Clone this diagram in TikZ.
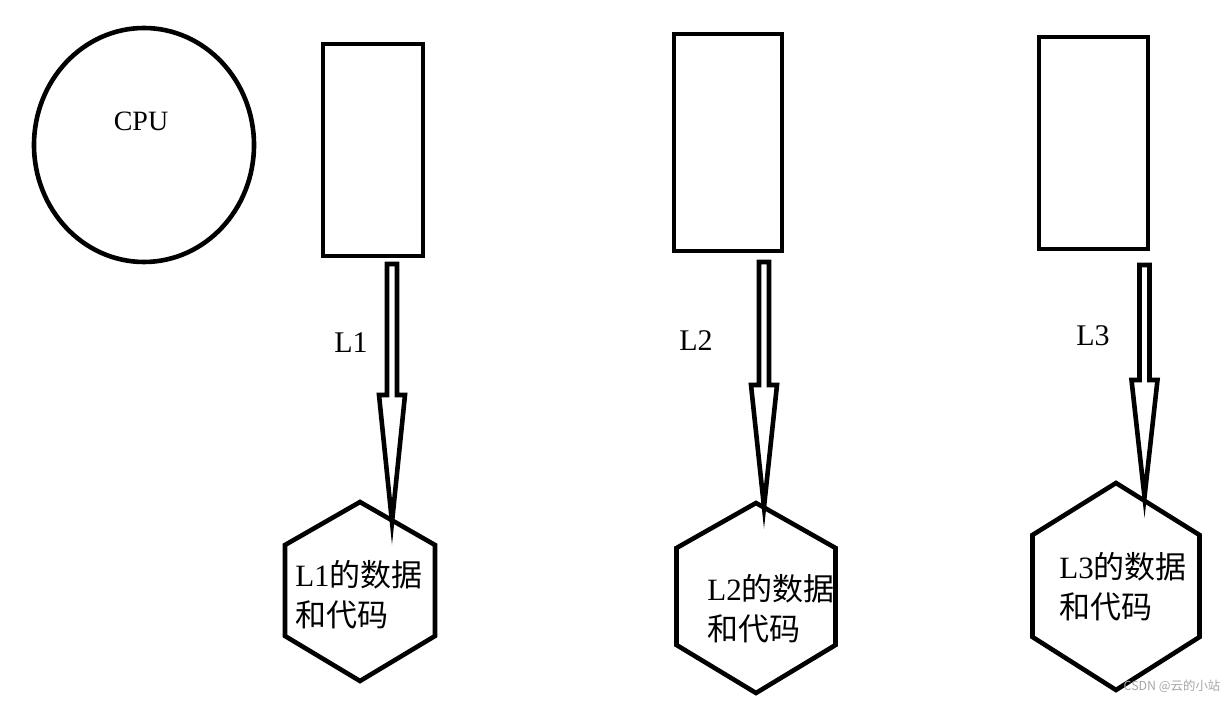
\documentclass[tikz,border=0pt]{standalone}
\usepackage{fontspec}
\setmainfont{Liberation Serif}
\newfontfamily\cjk{Noto Sans CJK SC}
\usetikzlibrary{shapes.geometric}

\begin{document}
\begin{tikzpicture}[
    x=0.5pt, y=-0.5pt,
    every node/.style={font=\fontsize{14}{17}\selectfont},
    line width=2.3pt,
    cache/.style={rectangle,draw,inner sep=0pt},
    core/.style={ellipse,draw,minimum width=110pt,minimum height=117pt,inner sep=0pt},
    datatext/.style={anchor=west,align=left,inner sep=0pt,font=\fontsize{15.5}{20}\selectfont},
    arrlabel/.style={font=\fontsize{15}{18}\selectfont},
    wmark/.style={text=black!35,font=\cjk\fontsize{6.2}{8}\selectfont},
]
\useasboundingbox (0,0) rectangle (1230,704);

% cpu
\node[core] (cpu) at (144,145) {};
\node (cputext) at (141,121) {CPU};

% caches
\node[cache,minimum width=50pt,minimum height=106pt]   (r1) at (373,150) {};
\node[cache,minimum width=54pt,minimum height=108.5pt] (r2) at (728,142.5) {};
\node[cache,minimum width=54.5pt,minimum height=106pt] (r3) at (1093.5,143) {};

% data blocks
\foreach \n/\cx/\hw/\tp/\sa/\sb/\bt in {1/360/75/502/545/636/681, 2/756/79.5/503/548/645/693, 3/1116/83.5/483/535/637/690}{
  \draw (\cx,\tp) -- (\cx+\hw,\sa) -- (\cx+\hw,\sb) -- (\cx,\bt) -- (\cx-\hw,\sb) -- (\cx-\hw,\sa) -- cycle;
}
\node[datatext] (d1) at (293,595) {L1{\cjk 的数据}\\{\cjk 和代码}};
\node[datatext] (d2) at (705,609) {L2{\cjk 的数据}\\{\cjk 和代码}};
\node[datatext] (d3) at (1057,587) {L3{\cjk 的数据}\\{\cjk 和代码}};

% hollow arrows
\foreach \n/\cx/\tp/\hy/\tip in {1/392/264/395/522, 2/764/262/385/507, 3/1144.5/265/380/497}{
  \coordinate (a\n) at (\cx,\tp);
  \coordinate (t\n) at (\cx,\tip);
  \draw (a\n) ++(-5,0) -- ++(10,0) -- (\cx+5,\hy) -- (\cx+13,\hy) -- (t\n)
        -- (\cx-13,\hy) -- (\cx-5,\hy) -- cycle;
}
\node[arrlabel] (l1) at (351,343) {L1};
\node[arrlabel] (l2) at (696,341) {L2};
\node[arrlabel] (l3) at (1093,336) {L3};

\node[wmark] (wm) at (1172,686) {CSDN @云的小站};
\end{tikzpicture}
\end{document}
